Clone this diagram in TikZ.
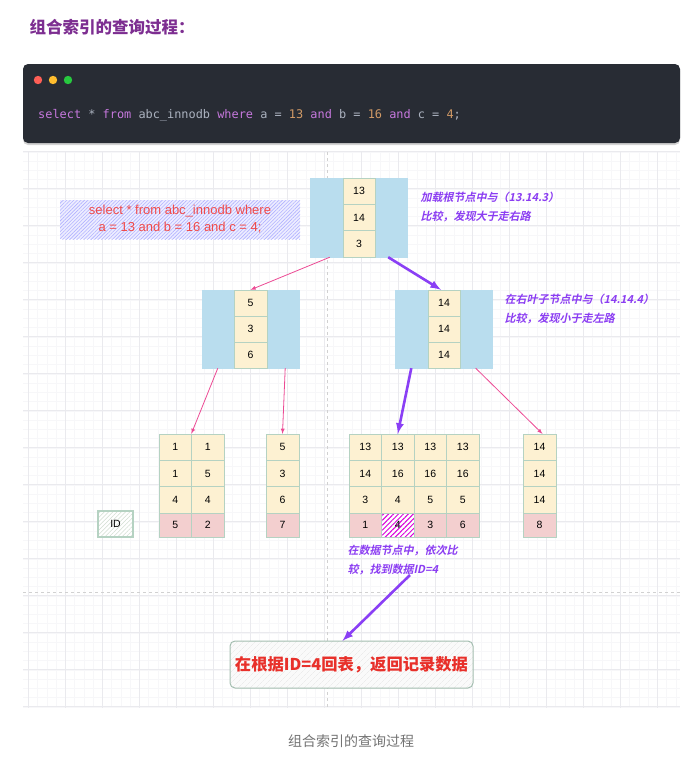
\documentclass[tikz,border=0pt]{standalone}
\usepackage{fontspec}
\setmainfont{Liberation Sans}
\newfontfamily\cjk{Noto Sans CJK SC}
\newfontfamily\cjknote{Noto Sans CJK SC Bold}[FakeSlant=0.22]
\newfontfamily\codefont{DejaVu Sans Mono}
\usetikzlibrary{patterns.meta,shadows}

\definecolor{titlepurple}{HTML}{7D2E91}
\definecolor{codebg}{HTML}{282C34}
\definecolor{codetext}{HTML}{ABB2BF}
\definecolor{codekw}{HTML}{C678DD}
\definecolor{codenum}{HTML}{D19A66}
\definecolor{gridmajor}{HTML}{EAEAEE}
\definecolor{gridminor}{HTML}{F7F7F9}
\definecolor{nodeblue}{HTML}{B9DDEE}
\definecolor{cellyellow}{HTML}{FDF1D2}
\definecolor{cellpink}{HTML}{F3CFCF}
\definecolor{cellline}{HTML}{B5D2C2}
\definecolor{arrowpink}{HTML}{EC4A94}
\definecolor{arrowpurple}{HTML}{8A3FF5}
\definecolor{notepurple}{HTML}{8B3DF2}
\definecolor{queryred}{HTML}{F04A4A}
\definecolor{backred}{HTML}{E8302A}
\definecolor{dotred}{HTML}{FF5F56}
\definecolor{dotyellow}{HTML}{FFBD2E}
\definecolor{dotgreen}{HTML}{27C93F}

\begin{document}
\begin{tikzpicture}[x=1pt, y=-1pt,
    blockbox/.style={fill=nodeblue, draw=nodeblue, minimum width=97pt, minimum height=78pt, inner sep=0pt},
    keycell/.style={draw=cellline, fill=cellyellow, minimum width=32.5pt, minimum height=26.3pt, inner sep=0pt, font=\fontsize{10.5}{12}\selectfont},
    idcell/.style={keycell, fill=cellpink, minimum height=24pt},
    note/.style={anchor=west, align=left, text=notepurple, font=\cjknote\fontsize{11}{19}\selectfont},
    pinkarrow/.style={->, >=latex, draw=arrowpink, line width=0.8pt},
    purplearrow/.style={->, >=latex, draw=arrowpurple, line width=2.6pt}]

    \useasboundingbox (0,0) rectangle (688,769);

    % title and code block
    \node[anchor=west, text=titlepurple, font=\cjk\bfseries\fontsize{16.5}{18}\selectfont] (title) at (26,27) {组合索引的查询过程：};
    \fill[codebg, rounded corners=5pt, drop shadow={opacity=0.35, shadow xshift=0pt, shadow yshift=-2pt}] (23,64) rectangle (680,143);
    \fill[dotred] (38,80) circle (4.2);
    \fill[dotyellow] (53,80) circle (4.2);
    \fill[dotgreen] (68,80) circle (4.2);
    \node[anchor=west, inner sep=0pt, text=codetext, font=\codefont\fontsize{11.9}{14}\selectfont] (code) at (38,115)
        {{\color{codekw}select} * {\color{codekw}from} abc\_innodb {\color{codekw}where} a = {\color{codenum}13} {\color{codekw}and} b = {\color{codenum}16} {\color{codekw}and} c = {\color{codenum}4};};

    % grid
    \foreach \i in {0,...,70} \draw[gridminor, line width=0.4pt] ({28.3+9.25*\i},152) -- ++(0,556);
    \foreach \i in {0,...,60} \draw[gridminor, line width=0.4pt] (23,{151.7+9.25*\i}) -- ++(657,0);
    \foreach \i in {0,...,17} \draw[gridmajor, line width=0.6pt] ({28.3+37*\i},152) -- ++(0,556);
    \foreach \i in {0,...,15} \draw[gridmajor, line width=0.6pt] (23,{151.7+37*\i}) -- ++(657,0);
    \draw[black!18, dashed] (327,152) -- (327,708);
    \draw[black!18, dashed] (23,592) -- (680,592);

    % query text
    \node[minimum width=240pt, minimum height=39pt, align=center, text=queryred,
          font=\fontsize{13}{17}\selectfont, preaction={fill=blue!7},
          pattern={Lines[angle=45, distance=2.5pt, line width=0.6pt]}, pattern color=blue!30] (query) at (180,219.5)
        {select * from abc\_innodb where\\a = 13 and b = 16 and c = 4;};

    % root node
    \node[blockbox, minimum height=79pt] (root) at (358.5,217.5) {};
    \node[keycell] (R1) at (359,191.2) {13};
    \node[keycell] (R2) at (359,217.5) {14};
    \node[keycell] (R3) at (359,243.8) {3};
    \node[note] (noteRoot) at (417,207.5) {加载根节点中与（13.14.3）\\比较，发现大于走右路};

    % second level
    \node[blockbox] (midL) at (250.5,329) {};
    \node[keycell, minimum height=26pt] (L1) at (250.5,303) {5};
    \node[keycell, minimum height=26pt] (L2) at (250.5,329) {3};
    \node[keycell, minimum height=26pt] (L3) at (250.5,355) {6};

    \node[blockbox] (midR) at (444,329) {};
    \node[keycell, minimum height=26pt] (M1) at (444,303) {14};
    \node[keycell, minimum height=26pt] (M2) at (444,329) {14};
    \node[keycell, minimum height=26pt] (M3) at (444,355) {14};
    \node[note] (noteMid) at (501,309.5) {在右叶子节点中与（14.14.4）\\比较，发现小于走左路};

    % leaves
    \node[minimum width=35pt, minimum height=26pt, draw=cellline, line width=1.2pt, preaction={fill=white},
          pattern={Lines[angle=45, distance=3pt, line width=0.5pt]}, pattern color=green!25!black!18, font=\fontsize{10.5}{12}\selectfont] (idkey) at (115.5,524) {ID};

    \node[keycell] (A11) at (175.25,447.2) {1};
    \node[keycell] (A21) at (175.25,473.5) {1};
    \node[keycell] (A31) at (175.25,499.8) {4};
    \node[idcell] (A41) at (175.25,525) {5};
    \node[keycell] (A12) at (207.75,447.2) {1};
    \node[keycell] (A22) at (207.75,473.5) {5};
    \node[keycell] (A32) at (207.75,499.8) {4};
    \node[idcell] (A42) at (207.75,525) {2};

    \node[keycell] (B1) at (282.5,447.2) {5};
    \node[keycell] (B2) at (282.5,473.5) {3};
    \node[keycell] (B3) at (282.5,499.8) {6};
    \node[idcell] (B4) at (282.5,525) {7};

    \node[keycell] (C11) at (365.25,447.2) {13};
    \node[keycell] (C21) at (365.25,473.5) {14};
    \node[keycell] (C31) at (365.25,499.8) {3};
    \node[idcell] (C41) at (365.25,525) {1};
    \node[keycell] (C12) at (397.75,447.2) {13};
    \node[keycell] (C22) at (397.75,473.5) {16};
    \node[keycell] (C32) at (397.75,499.8) {4};
    \node[idcell, preaction={fill=white}, pattern={Lines[angle=45, distance=3.5pt, line width=1pt]}, pattern color=magenta!70!violet] (C42) at (397.75,525) {4};
    \node[keycell] (C13) at (430.25,447.2) {13};
    \node[keycell] (C23) at (430.25,473.5) {16};
    \node[keycell] (C33) at (430.25,499.8) {5};
    \node[idcell] (C43) at (430.25,525) {3};
    \node[keycell] (C14) at (462.75,447.2) {13};
    \node[keycell] (C24) at (462.75,473.5) {16};
    \node[keycell] (C34) at (462.75,499.8) {5};
    \node[idcell] (C44) at (462.75,525) {6};

    \node[keycell] (D1) at (539.5,447.2) {14};
    \node[keycell] (D2) at (539.5,473.5) {14};
    \node[keycell] (D3) at (539.5,499.8) {14};
    \node[idcell] (D4) at (539.5,525) {8};

    \node[note] (noteData) at (344,560.5) {在数据节点中，依次比\\较，找到数据ID=4};
    \coordinate (dataFrom) at (410,575);

    % back to table
    \node[minimum width=243pt, minimum height=47pt, rounded corners=5pt, draw=cellline!90!black, line width=1pt,
          preaction={fill=black!2}, pattern={Lines[angle=45, distance=4pt, line width=0.4pt]}, pattern color=black!10,
          text=backred, font=\cjk\bfseries\fontsize{16.3}{18}\selectfont] (backBox) at (351.5,664.5) {在根据ID=4回表，返回记录数据};

    \node[text=black!55, font=\cjk\fontsize{14}{16}\selectfont] (caption) at (351,741) {组合索引的查询过程};

    % arrows
    \draw [pinkarrow] ([xshift=20pt]root.south west) -- (midL.north);
    \draw [purplearrow] ([xshift=-19pt]root.south east) -- ([xshift=-3pt]midR.north);
    \draw [pinkarrow] ([xshift=16pt]midL.south west) -- (A12.north west);
    \draw [pinkarrow] ([xshift=-14pt]midL.south east) -- (B1.north);
    \draw [purplearrow] ([xshift=16pt]midR.south west) -- (C12.north);
    \draw [pinkarrow] ([xshift=-17pt]midR.south east) -- ([xshift=3pt]D1.north);
    \draw [purplearrow] (dataFrom) -- ([xshift=-9pt]backBox.north);

\end{tikzpicture}
\end{document}
